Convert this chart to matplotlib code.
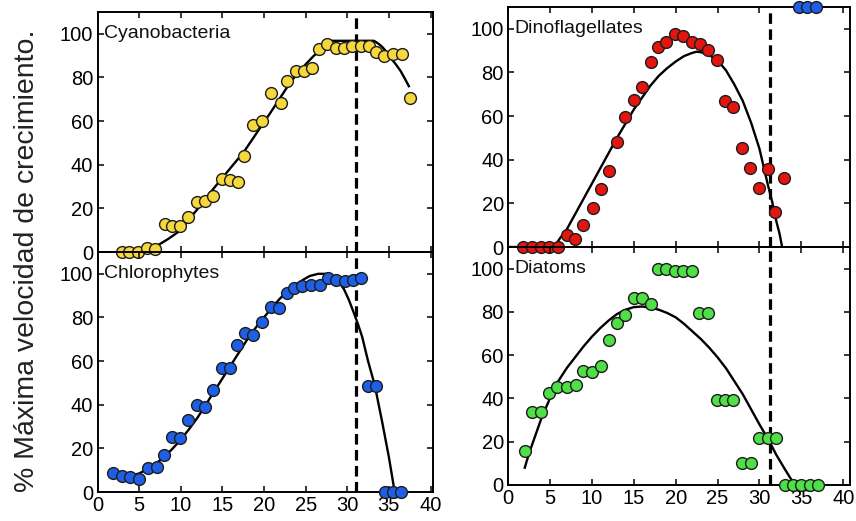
import numpy as np
import matplotlib.pyplot as plt

plt.rcParams['font.family'] = ['Liberation Sans', 'DejaVu Sans']

# measured points (temperature, % of max growth rate)
cyano_t = [2.9, 3.8, 4.9, 5.9, 6.9, 8.1, 8.9, 9.9, 10.9, 11.9, 12.9, 13.9, 14.9, 15.9, 16.9, 17.6, 18.7, 19.8,
           20.8, 22.0, 22.8, 23.8, 24.8, 25.8, 26.6, 27.6, 28.6, 29.6, 30.6, 31.6, 32.6, 33.5, 34.4, 35.5, 36.6, 37.5]
cyano_v = [0, 0, 0, 2, 1.5, 13, 12, 12, 16, 23, 23.5, 25.5, 33.5, 33, 32, 44, 58, 60,
           73, 68.5, 78.5, 83, 83, 84.5, 93, 95.3, 93.5, 93.5, 94.5, 94.5, 94.5, 91.5, 90, 90.7, 90.7, 70.6]
cyano_fit_t = [3, 4, 5, 6, 7, 8.5, 10, 11, 12.3, 13.5, 15, 16.3, 17.6, 19.2, 20.8, 22, 23.2, 24.2, 25, 26,
               27.2, 28, 33.2, 33.7, 34.2, 34.7, 35.2, 35.8, 36.4, 36.9, 37.4]
cyano_fit_v = [0, 0.2, 0.5, 1.3, 2.5, 6, 10, 15, 21, 27, 34, 40, 46, 55, 64, 71, 78, 82.5, 86, 90,
               93.5, 96.8, 96.8, 95.6, 94, 91.8, 89, 86.2, 83, 79.6, 76]

chloro_t = [1.9, 2.9, 3.9, 5.0, 6.1, 7.1, 8.0, 8.9, 9.9, 10.9, 11.9, 12.9, 13.9, 14.9, 15.9, 16.8, 17.7, 18.7,
            19.8, 20.8, 21.8, 22.8, 23.6, 24.6, 25.6, 26.7, 27.7, 28.7, 29.7, 30.7, 31.7, 32.5, 33.5, 34.5, 35.5, 36.5]
chloro_v = [8.6, 7.5, 7, 6, 10.9, 11.6, 17, 25.4, 24.6, 33, 39.9, 39.1, 46.8, 56.7, 56.7, 67.4, 72.8, 72,
            78.1, 85, 84.3, 91.1, 93.4, 94.2, 95, 95, 98, 97.2, 96.5, 97, 98.3, 48.6, 48.6, 0, 0, 0]
chloro_fit_t = [2, 3, 4, 5, 6, 7, 8, 9, 10, 11, 12, 13, 14, 15, 16, 17, 18, 19, 20, 21, 22, 23, 24, 24.8, 25.5,
                26.5, 27.5, 28, 28.4, 29, 29.6, 30.2, 30.8, 31.3, 31.8, 32.5, 33.3, 34.2, 35.0, 35.7]
chloro_fit_v = [8, 7.5, 7.5, 8.5, 10.5, 13, 16, 19.8, 24, 28.8, 34, 40, 46, 52, 58, 64, 70, 75.3, 80, 84.8, 89,
                92.5, 95.5, 97.5, 99, 100, 100, 99.4, 98.5, 96.2, 93, 88, 82, 76.8, 71, 60, 49, 32, 16, 0]

dino_t = [1.8, 2.9, 3.9, 4.9, 6.0, 7.0, 8.0, 9.0, 10.1, 11.1, 12.0, 13.0, 13.9, 15.0, 16.0, 17.0, 17.9, 18.9,
          19.9, 20.9, 21.9, 22.9, 23.9, 24.9, 25.9, 26.9, 27.9, 28.9, 29.9, 31.0, 31.9, 32.9]
dino_v = [0, 0, 0, 0, 0, 5.5, 3.5, 10.1, 17.7, 26.5, 34.9, 48.3, 59.5, 67.4, 73.5, 85, 91.6, 93.9,
          97.7, 96.9, 93.9, 93.1, 90.4, 85.8, 66.7, 64.1, 45.3, 36.1, 26.9, 35.6, 15.9, 31.5]
dino_fit_t = [0, 5.5, 6.2, 7, 8, 9, 10, 11, 12, 13, 14, 15, 16, 17, 18, 19, 20, 21, 22, 22.5, 23, 24, 25, 26,
              27, 28, 29, 30, 31, 31.5, 32, 32.4, 32.7]
dino_fit_v = [0, 0, 4, 8, 15, 22, 29, 36, 43, 50, 56.5, 63, 68.5, 74, 78.5, 82, 85, 87.5, 89, 89.5, 89.3, 88,
              85.5, 81, 74.5, 67, 57, 45, 28.5, 21, 12, 6, 0]

diatom_t = [2.0, 2.9, 3.9, 4.9, 5.9, 7.0, 8.1, 9.0, 10.0, 11.1, 12.1, 13.0, 14.0, 15.0, 16.0, 17.0, 17.9, 18.9,
            19.9, 20.9, 21.9, 22.8, 23.8, 24.9, 25.9, 26.9, 27.9, 29.0, 30.0, 31.0, 32.0, 33.0, 34.0, 35.0, 36.0, 37.0]
diatom_v = [15.5, 33.6, 33.6, 42.6, 45.3, 45.3, 46, 52.7, 52.4, 55, 67, 74.7, 78.6, 86.4, 86.4, 83.7, 100, 100,
            99, 99, 99, 79.5, 79.5, 39.2, 39.2, 39.2, 10.1, 10.1, 21.7, 21.7, 21.7, 0, 0, 0, 0, 0]
diatom_fit_t = [2, 2.5, 3, 3.5, 4, 4.5, 5, 6, 7, 8, 9, 10, 11, 12, 13, 14, 15, 16, 17, 18, 19, 20, 21, 22, 23,
                24, 25, 26, 27, 28, 29, 30, 31.2, 32, 33, 34.2]
diatom_fit_v = [8, 14.5, 20, 25.5, 31, 35.5, 40, 48, 54, 59, 64, 68.5, 72.5, 76, 79, 81, 82.2, 82.5, 82, 81,
                79.5, 77.5, 74.5, 71, 67.5, 63.5, 59, 54, 48, 42, 35, 28, 20, 14, 7.5, 0]

# bits of another panel peeking in at the top of the dinoflagellate plot
stray_t = [34.7, 35.7, 36.7]
stray_v = [110, 110, 110]

xticks = [0, 5, 10, 15, 20, 25, 30, 35, 40]
yticks = [0, 20, 40, 60, 80, 100]

W, H = 856, 521
fig = plt.figure(figsize=(W / 100, H / 100), dpi=100)


def box(l, t, r, b):
    return [l / W, 1 - b / H, (r - l) / W, (b - t) / H]


def panel(rect, xmax, t, v, ft, fv, color, name, tmax, xlabels):
    ax = fig.add_axes(rect)
    ax.set_facecolor('none')
    ax.plot(ft, fv, color='k', lw=1.7, zorder=2)
    ax.plot(t, v, 'o', ms=8.5, mfc=color, mec='#1c1c1c', mew=1.0, clip_on=False, zorder=3)
    ax.axvline(tmax, color='k', lw=2.3, dashes=(3.3, 1.7), zorder=2)
    ax.text(0.8, 100, name, fontsize=14, ha='left', va='center', color='#111')
    ax.set_xlim(0, xmax)
    ax.set_ylim(0, 110)
    ax.set_xticks(xticks)
    ax.set_yticks(yticks)
    ax.tick_params(direction='in', top=True, right=True, length=4, width=1.1, labelsize=14.5, pad=3)
    if not xlabels:
        ax.tick_params(labelbottom=False)
    for s in ax.spines.values():
        s.set_linewidth(1.4)
    return ax


panel(box(97.5, 12, 433, 252), 40.3, cyano_t, cyano_v, cyano_fit_t, cyano_fit_v, '#f6d83c', 'Cyanobacteria', 31.0, False)
panel(box(97.5, 252, 433, 492), 40.3, chloro_t, chloro_v, chloro_fit_t, chloro_fit_v, '#1f5fe6', 'Chlorophytes', 31.0, True)
ax_tr = panel(box(508, 7, 850, 247), 40.8, dino_t, dino_v, dino_fit_t, dino_fit_v, '#e3160f', 'Dinoflagellates', 31.2, False)
ax_tr.plot(stray_t, stray_v, 'o', ms=8.5, mfc='#1f5fe6', mec='#1c1c1c', mew=1.0, clip_on=False, zorder=3)
panel(box(508, 247, 850, 485), 40.8, diatom_t, diatom_v, diatom_fit_t, diatom_fit_v, '#4ee046', 'Diatoms', 31.2, True)

fig.text(0.031, 0.5, '% Máxima velocidad de crecimiento.', rotation=90, fontsize=20.5,
         ha='center', va='center', color='#222')

fig.savefig('out.png', dpi=100)
